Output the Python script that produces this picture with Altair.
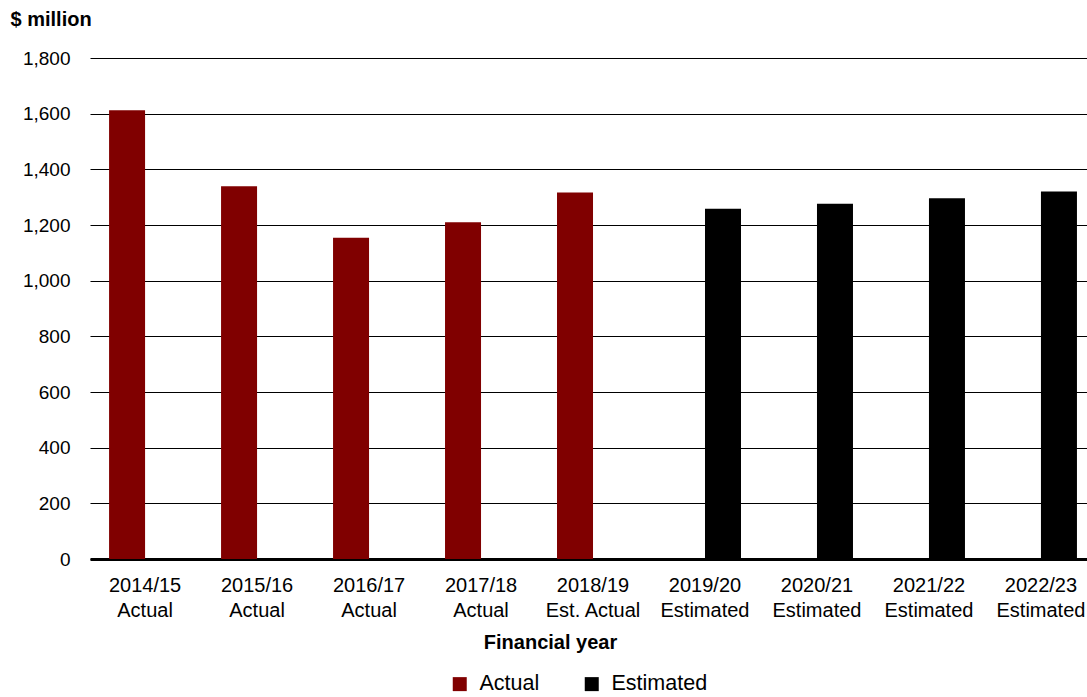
import altair as alt
import pandas as pd

years = ["2014/15|Actual", "2015/16|Actual", "2016/17|Actual", "2017/18|Actual",
         "2018/19|Est. Actual", "2019/20|Estimated", "2020/21|Estimated",
         "2021/22|Estimated", "2022/23|Estimated"]
series = ["Actual"] * 5 + ["Estimated"] * 4
values = [1612, 1339, 1154, 1210, 1317, 1258, 1276, 1296, 1320]
y_ticks = [0, 200, 400, 600, 800, 1000, 1200, 1400, 1600, 1800]

df = pd.DataFrame({"year": years, "series": series, "value": values})

chart = alt.Chart(df).mark_bar().encode(
    x=alt.X("year:N", sort=years, title="Financial year",
            scale=alt.Scale(paddingInner=0.357, paddingOuter=0.13, align=0.655),
            axis=alt.Axis(labelExpr="split(datum.label, '|')", labelAngle=0, ticks=False,
                          domainColor="#000", domainWidth=3, labelPadding=16,
                          labelFontSize=20, labelLineHeight=25, titleFontSize=20,
                          titleFontWeight="bold", titleX=460, titleY=89,
                          titleAlign="center", titleBaseline="alphabetic",
                          labelColor="#000", titleColor="#000")),
    xOffset=alt.XOffset("series:N", scale=alt.Scale(domain=["Actual", "Estimated"],
                                                    paddingInner=0, paddingOuter=0)),
    y=alt.Y("value:Q", scale=alt.Scale(domain=[0, 1800], nice=False),
            axis=alt.Axis(values=y_ticks, format=",.0f", title="$ million", titleAngle=0,
                          titleX=-80, titleY=-33, titleAlign="left",
                          titleBaseline="alphabetic", titleFontSize=20,
                          titleFontWeight="bold", ticks=False, domain=False,
                          gridColor="#000", gridWidth=1, gridOpacity=1,
                          labelPadding=20, labelFontSize=19, labelColor="#000",
                          titleColor="#000")),
    color=alt.Color("series:N",
                    scale=alt.Scale(domain=["Actual", "Estimated"], range=["#800000", "#000000"]),
                    legend=alt.Legend(title=None, orient="none", legendX=359, legendY=615,
                                      direction="horizontal", symbolType="square",
                                      symbolSize=196, labelFontSize=21.5, columnPadding=41,
                                      labelOffset=9, symbolStrokeWidth=0,
                                      labelColor="#000")),
).properties(
    width=997, height=501,
    autosize=alt.AutoSizeParams(type="none"),
    padding={"left": 90, "top": 58, "right": 0, "bottom": 138},
).configure(font="Liberation Sans").configure_view(stroke=None)

chart.save("out.html", embed_options={"renderer": "svg", "actions": False})
